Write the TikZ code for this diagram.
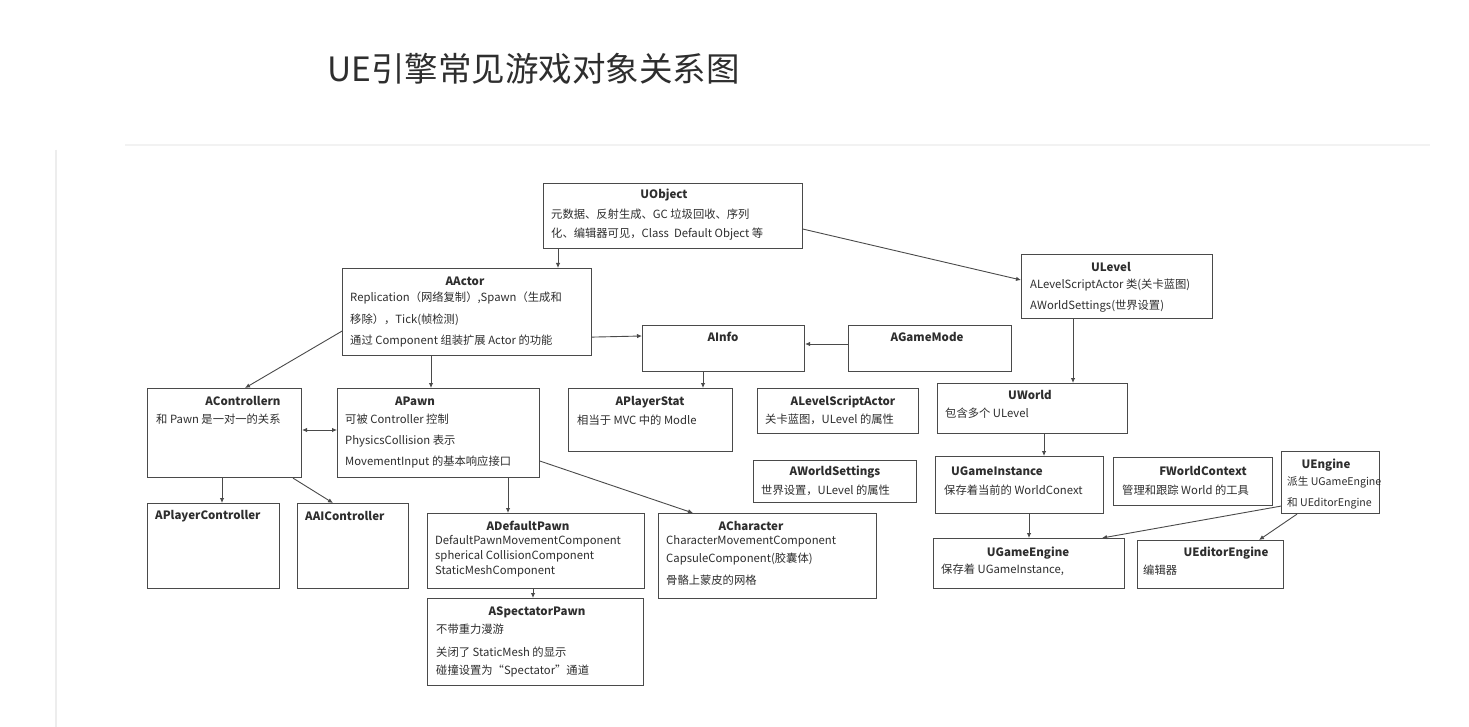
\documentclass[tikz,border=0pt]{standalone}
\usepackage{fontspec}
\setmainfont{Noto Sans CJK SC}
\usetikzlibrary{arrows.meta}
\definecolor{ink}{HTML}{2E2E2E}
\definecolor{edge}{HTML}{4A4A4A}
\tikzset{
  box/.style={draw=edge, line width=1.1pt, anchor=north west, inner sep=0pt, rectangle},
  ttl/.style={font=\fontsize{11.5}{13}\selectfont\bfseries, text=ink, anchor=center, inner sep=0pt},
  txt/.style={font=\fontsize{11.3}{13}\selectfont, text=ink, anchor=west, inner sep=0pt},
  txts/.style={txt, font=\fontsize{10.6}{13}\selectfont},
  ttlw/.style={ttl, anchor=west},
  arr/.style={draw=edge, line width=0.9pt, -{Latex[length=5pt,width=4.5pt]}},
  arrb/.style={draw=edge, line width=0.9pt, {Latex[length=5pt,width=4.5pt]}-{Latex[length=5pt,width=4.5pt]}},
  card/.style={draw=black!7, line width=2pt}
}
\begin{document}
\begin{tikzpicture}[x=1pt,y=-1pt]
\useasboundingbox (0,0) rectangle (1469,727);
\fill[white] (0,0) rectangle (1469,727);
\coordinate (cardA) at (56,150);
\coordinate (cardB) at (56,727);
\coordinate (cardC) at (125,145);
\coordinate (cardD) at (1430,145);
\draw[card] (cardA) -- (cardB);
\draw[draw=black!5, line width=1.5pt] (cardC) -- (cardD);

% title
\node[anchor=west, inner sep=0pt, text=ink, font=\fontsize{33.5}{38}\selectfont] (title) at (327,69) {UE引擎常见游戏对象关系图};

% boxes
\node[box, minimum width=259pt, minimum height=65pt] (uobj) at (543,183) {};
\node[box, minimum width=249pt, minimum height=87pt] (aactor) at (342,268) {};
\node[box, minimum width=191pt, minimum height=64pt] (ulevel) at (1021,254) {};
\node[box, minimum width=162pt, minimum height=46pt] (ainfo) at (642,325) {};
\node[box, minimum width=163pt, minimum height=46pt] (agm) at (848,325) {};
\node[box, minimum width=154pt, minimum height=89pt] (actrl) at (147,388) {};
\node[box, minimum width=202pt, minimum height=89pt] (apawn) at (337,388) {};
\node[box, minimum width=164pt, minimum height=63pt] (apstat) at (568,388) {};
\node[box, minimum width=161pt, minimum height=45pt] (alsa) at (757,388) {};
\node[box, minimum width=190pt, minimum height=50pt] (uworld) at (937,383) {};
\node[box, minimum width=163pt, minimum height=42pt] (aws) at (753,460) {};
\node[box, minimum width=168pt, minimum height=57pt] (ugi) at (935,456) {};
\node[box, minimum width=159pt, minimum height=48pt] (fwc) at (1113,457) {};
\node[box, minimum width=98pt, minimum height=62pt] (ueng) at (1281,451) {};
\node[box, minimum width=191pt, minimum height=50pt] (uge) at (933,538) {};
\node[box, minimum width=146pt, minimum height=48pt] (uee) at (1137,540) {};
\node[box, minimum width=132pt, minimum height=85pt] (apc) at (147,503) {};
\node[box, minimum width=111pt, minimum height=85pt] (aaic) at (297,503) {};
\node[box, minimum width=217pt, minimum height=75pt] (adp) at (427,513) {};
\node[box, minimum width=218pt, minimum height=85pt] (achar) at (658,513) {};
\node[box, minimum width=216pt, minimum height=87pt] (asp) at (427,598) {};

% texts
\node[ttl] (uobjT) at (664,195) {UObject};
\node[txt] (uobj1) at (551,214) {元数据、反射生成、GC 垃圾回收、序列};
\node[txt] (uobj2) at (551,234) {化、编辑器可见，Class\ \ Default Object 等};

\node[ttl] (aactorT) at (465,281) {AActor};
\node[txt] (aactor1) at (350,298) {Replication（网络复制）,Spawn（生成和};
\node[txt] (aactor2) at (350,320) {移除），Tick(帧检测)};
\node[txt] (aactor3) at (350,341) {通过 Component 组装扩展 Actor 的功能};

\node[ttl] (ulevelT) at (1111,267) {ULevel};
\node[txt] (ulevel1) at (1030,285) {ALevelScriptActor 类(关卡蓝图)};
\node[txt] (ulevel2) at (1030,306) {AWorldSettings(世界设置)};

\node[ttl] (ainfoT) at (723,337) {AInfo};
\node[ttl] (agmT) at (927,337) {AGameMode};

\node[ttl] (actrlT) at (243,401) {AControllern};
\node[txt] (actrl1) at (156,419) {和 Pawn 是一对一的关系};

\node[ttl] (apawnT) at (415,401) {APawn};
\node[txt] (apawn1) at (345,419) {可被 Controller 控制};
\node[txt] (apawn2) at (345,441) {PhysicsCollision 表示};
\node[txt] (apawn3) at (345,462) {MovementInput 的基本响应接口};

\node[ttl] (apstatT) at (650,402) {APlayerStat};
\node[txt] (apstat1) at (577,420) {相当于 MVC 中的 Modle};

\node[ttl] (alsaT) at (843,402) {ALevelScriptActor};
\node[txt] (alsa1) at (765,419) {关卡蓝图，ULevel 的属性};

\node[ttl] (uworldT) at (1030,395) {UWorld};
\node[txt] (uworld1) at (945,413) {包含多个 ULevel};

\node[ttl] (awsT) at (835,472) {AWorldSettings};
\node[txt] (aws1) at (761,490) {世界设置，ULevel 的属性};

\node[ttlw] (ugiT) at (951,471) {UGameInstance};
\node[txt] (ugi1) at (944,490) {保存着当前的 WorldConext};

\node[ttl] (fwcT) at (1203,471) {FWorldContext};
\node[txt] (fwc1) at (1122,490) {管理和跟踪 World 的工具};

\node[ttl] (uengT) at (1326,465) {UEngine};
\node[txts] (ueng1) at (1287,482) {派生 UGameEngine};
\node[txts] (ueng2) at (1287,503) {和 UEditorEngine};

\node[ttl] (ugeT) at (1028,553) {UGameEngine};
\node[txt] (uge1) at (941,570) {保存着 UGameInstance,};

\node[ttl] (ueeT) at (1226,553) {UEditorEngine};
\node[txt] (uee1) at (1143,570) {编辑器};

\node[ttlw] (apcT) at (155,516) {APlayerController};
\node[ttlw] (aaicT) at (305,516) {AAIController};

\node[ttl] (adpT) at (528,526) {ADefaultPawn};
\node[txt] (adp1) at (435,541) {DefaultPawnMovementComponent};
\node[txt] (adp2) at (435,556) {spherical CollisionComponent};
\node[txt] (adp3) at (435,571) {StaticMeshComponent};

\node[ttl] (acharT) at (751,526) {ACharacter};
\node[txt] (achar1) at (666,541) {CharacterMovementComponent};
\node[txt] (achar2) at (666,559) {CapsuleComponent(胶囊体)};
\node[txt] (achar3) at (666,580) {骨骼上蒙皮的网格};

\node[ttl] (aspT) at (537,612) {ASpectatorPawn};
\node[txt] (asp1) at (436,629) {不带重力漫游};
\node[txt] (asp2) at (436,652) {关闭了 StaticMesh 的显示};
\node[txt] (asp3) at (436,671) {碰撞设置为“Spectator”通道};

% connectors
\draw[arr] ([xshift=15pt]uobj.south west) -- ([xshift=216pt]aactor.north west);
\draw[arr] ([yshift=20pt]uobj.south east) -- ([yshift=-26pt]ulevel.north west);
\draw[arr] ([xshift=52pt]ulevel.south west) -- ([xshift=136pt]uworld.north west);
\draw[arr] ([yshift=25pt]aactor.south west) -- ([xshift=98pt]actrl.north west);
\draw[arr] ([xshift=89pt]aactor.south west) -- ([xshift=94pt]apawn.north west);
\draw[arr] ([yshift=19pt]aactor.south east) -- ([yshift=-11pt]ainfo.north west);
\draw[arr] ([yshift=-19pt]agm.north west) -- ([yshift=-19pt]ainfo.north east);
\draw[arr] ([xshift=61pt]ainfo.south west) -- ([xshift=135pt]apstat.north west);
\draw[arrb] ([yshift=-42pt]actrl.north east) -- ([yshift=-42pt]apawn.north west);
\draw[arr] ([xshift=75pt]actrl.south west) -- ([xshift=75pt]apc.north west);
\draw[arr] ([xshift=146pt]actrl.south west) -- ([xshift=36pt]aaic.north west);
\draw[arr] ([xshift=171pt]apawn.south west) -- ([xshift=81pt]adp.north west);
\draw[arr] ([yshift=17pt]apawn.south east) -- ([xshift=35pt]achar.north west);
\draw[arr] ([xshift=106pt]adp.south west) -- ([xshift=106pt]asp.north west);
\draw[arr] ([xshift=107pt]uworld.south west) -- ([xshift=109pt]ugi.north west);
\draw[arr] ([xshift=94pt]ugi.south west) -- ([xshift=96pt]uge.north west);
\draw[arr] ([yshift=8pt]ueng.south west) -- ([xshift=169pt]uge.north west);
\draw[arr] ([xshift=16pt]ueng.south west) -- ([xshift=122pt]uee.north west);
\end{tikzpicture}
\end{document}
